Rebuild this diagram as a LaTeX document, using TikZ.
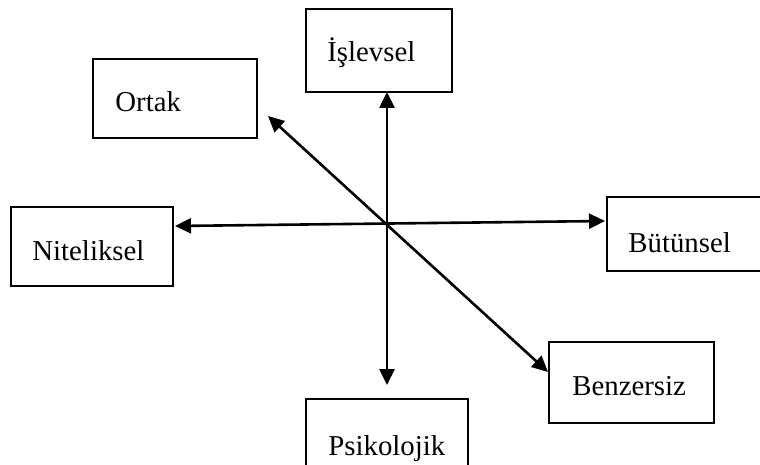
\documentclass[tikz,border=0pt]{standalone}
\usepackage{fontspec}
\setmainfont{Liberation Serif}
\usetikzlibrary{arrows.meta}
\begin{document}
\begin{tikzpicture}[x=0.5pt,y=-0.5pt,
  box/.style={draw=black,line width=0.8pt,fill=white},
  lbl/.style={anchor=base west,inner sep=0pt,font=\fontsize{14.4pt}{16pt}\selectfont},
  conn/.style={line width=1.3pt,{Triangle[length=8pt,width=7.5pt]}-{Triangle[length=8pt,width=7.5pt]}}]
\useasboundingbox (0,0) rectangle (760,465);
\clip (0,0) rectangle (760,465);
% boxes
\draw[box] (306,9) rectangle (452,92);
\draw[box] (93,59) rectangle (257,138);
\draw[box] (11,207) rectangle (173,286);
\draw[box] (607,197) rectangle (780,271);
\draw[box] (549,342) rectangle (714,423);
\draw[box] (306,399) rectangle (468,500);
% labels
\node[lbl] (islevsel) at (327,62) {İşlevsel};
\node[lbl] (ortak) at (115,112) {Ortak};
\node[lbl] (niteliksel) at (32,260) {Niteliksel};
\node[lbl] (butunsel) at (628,252) {Bütünsel};
\node[lbl] (benzersiz) at (572,395) {Benzersiz};
\node[lbl] (psikolojik) at (328,455) {Psikolojik};
% arrow endpoints
\coordinate (vTop) at (387,92);
\coordinate (vBot) at (387,385);
\coordinate (hL) at (175,226);
\coordinate (hR) at (605,221);
\coordinate (dA) at (268,116);
\coordinate (dB) at (548,372);
\draw[conn] (vTop) -- (vBot);
\draw[conn] (hL) -- (hR);
\draw[conn] (dA) -- (dB);
\end{tikzpicture}
\end{document}
